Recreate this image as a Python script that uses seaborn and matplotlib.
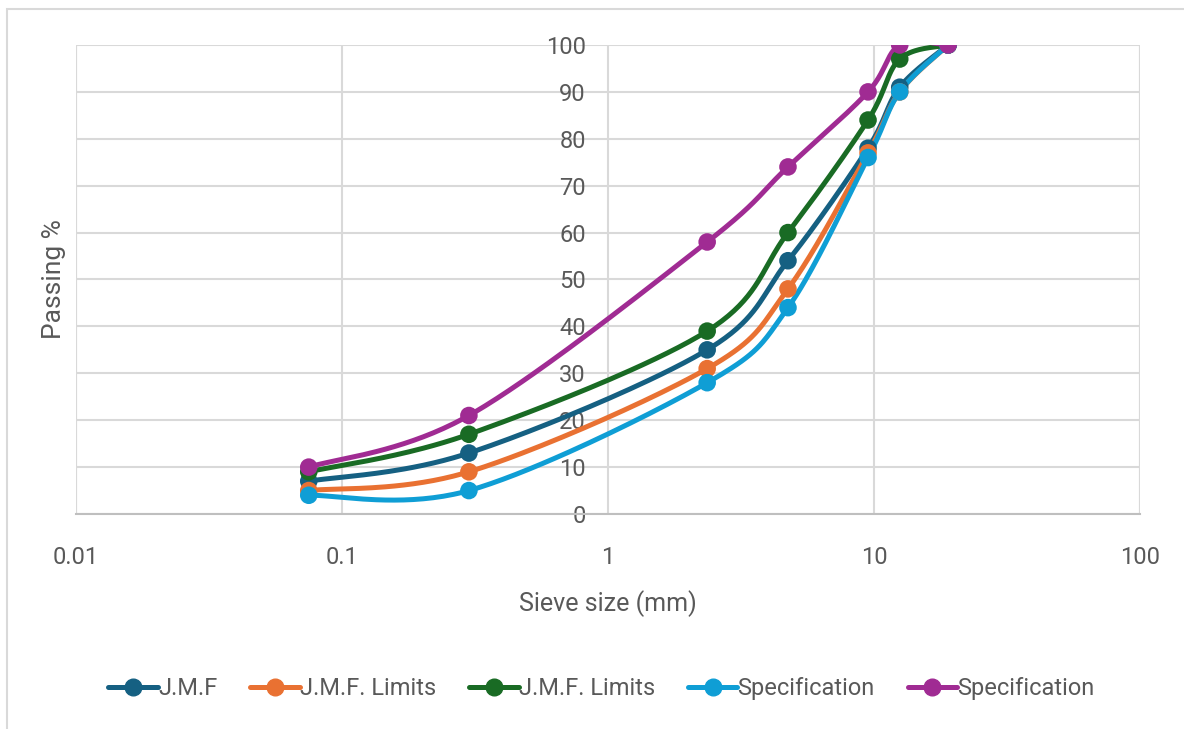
import numpy as np
import pandas as pd
import matplotlib
matplotlib.use('Agg')
import matplotlib.pyplot as plt
from matplotlib.lines import Line2D
from matplotlib.patches import Rectangle
import seaborn as sns

# Sieve sizes (mm) and passing % for each series
sieve = [0.075, 0.3, 2.36, 4.75, 9.5, 12.5, 19]
jmf = [7, 13, 35, 54, 78, 91, 100]
jmf_low = [5, 9, 31, 48, 77, 90, 100]
jmf_high = [9, 17, 39, 60, 84, 97, 100]
spec_low = [4, 5, 28, 44, 76, 90, 100]
spec_high = [10, 21, 58, 74, 90, 100, 100]

series_ids = ['jmf', 'jmf_low', 'jmf_high', 'spec_low', 'spec_high']
series_labels = ['J.M.F', 'J.M.F. Limits', 'J.M.F. Limits', 'Specification', 'Specification']
series_values = [jmf, jmf_low, jmf_high, spec_low, spec_high]
colors = ['#156082', '#E97132', '#196B24', '#0F9ED5', '#A02B93']

df = pd.DataFrame({
    'sieve': sieve * len(series_ids),
    'passing': sum(series_values, []),
    'series': [s for s in series_ids for _ in sieve],
})

sns.set_style('white')
plt.rcParams['font.family'] = ['Roboto', 'DejaVu Sans']
text_color = '#595959'
grid_color = '#d9d9d9'

fig = plt.figure(figsize=(11.84, 7.29), dpi=100)
ax = fig.add_axes([0.0642, 0.2949, 0.8986, 0.6434])


def smooth(xs, ys, n=40):
    # Excel-style smoothed line: cubic Bezier through points in log-x space
    u = np.log10(np.asarray(xs, float))
    v = np.asarray(ys, float)
    pu = np.concatenate([[u[0]], u, [u[-1]]])
    pv = np.concatenate([[v[0]], v, [v[-1]]])
    out_u, out_v = [], []
    t = np.linspace(0, 1, n)
    for i in range(1, len(u)):
        p0 = np.array([pu[i], pv[i]])
        p3 = np.array([pu[i + 1], pv[i + 1]])
        c1 = p0 + (np.array([pu[i + 1], pv[i + 1]]) - np.array([pu[i - 1], pv[i - 1]])) / 6
        c2 = p3 - (np.array([pu[i + 2], pv[i + 2]]) - np.array([pu[i], pv[i]])) / 6
        b = ((1 - t) ** 3)[:, None] * p0 + (3 * (1 - t) ** 2 * t)[:, None] * c1 \
            + (3 * (1 - t) * t ** 2)[:, None] * c2 + (t ** 3)[:, None] * p3
        out_u.extend(b[:, 0])
        out_v.extend(b[:, 1])
    return 10 ** np.array(out_u), np.array(out_v)


for sid, vals, c in zip(series_ids, series_values, colors):
    sx, sy = smooth(sieve, vals)
    ax.plot(sx, sy, color=c, lw=3.6, solid_capstyle='round', zorder=3)
    sub = df[df['series'] == sid]
    sns.scatterplot(data=sub, x='sieve', y='passing', color=c, s=160,
                    edgecolor='none', ax=ax, zorder=4, legend=False)

ax.set_xscale('log')
ax.set_xlim(0.01, 100)
ax.set_ylim(0, 100)
ax.set_yticks(range(0, 101, 10))
ax.set_xticks([0.01, 0.1, 1, 10, 100])
ax.set_xticklabels(['0.01', '0.1', '1', '10', '100'])
ax.minorticks_off()

# y axis crosses at x = 1
ax.spines['left'].set_position(('data', 1))
for side in ['left', 'right', 'top']:
    ax.spines[side].set_visible(False)
ax.spines['bottom'].set_color('#bfbfbf')
ax.spines['bottom'].set_linewidth(1.5)

ax.grid(True, which='major', color=grid_color, lw=1.5)
ax.axvline(0.01, color=grid_color, lw=1.5, zorder=0)
ax.axvline(100, color=grid_color, lw=1.5, zorder=0)
ax.set_axisbelow(True)

ax.tick_params(axis='both', length=0, labelsize=17, labelcolor=text_color)
ax.tick_params(axis='x', pad=23)
ax.tick_params(axis='y', pad=16)

ax.set_xlabel('Sieve size (mm)', fontsize=18, color=text_color, labelpad=15)
ax.set_ylabel('Passing %', fontsize=19, color=text_color)
ax.yaxis.set_label_coords(-0.009, 0.5)

handles = [Line2D([0], [0], color=c, lw=3.6, marker='o', markersize=12)
           for c in colors]
fig.legend(handles, series_labels, loc='center', bbox_to_anchor=(0.508, 0.055),
           ncol=5, frameon=False, fontsize=17, labelcolor=text_color,
           handlelength=2.1, handletextpad=0.0, columnspacing=1.4)

# light chart border
fig.patches.append(Rectangle((7 / 1184, -0.1), 1.2, 1.1 - 9 / 729,
                             transform=fig.transFigure, fill=False,
                             edgecolor='#d9d9d9', lw=1.5))

fig.savefig('out.png', dpi=100)
